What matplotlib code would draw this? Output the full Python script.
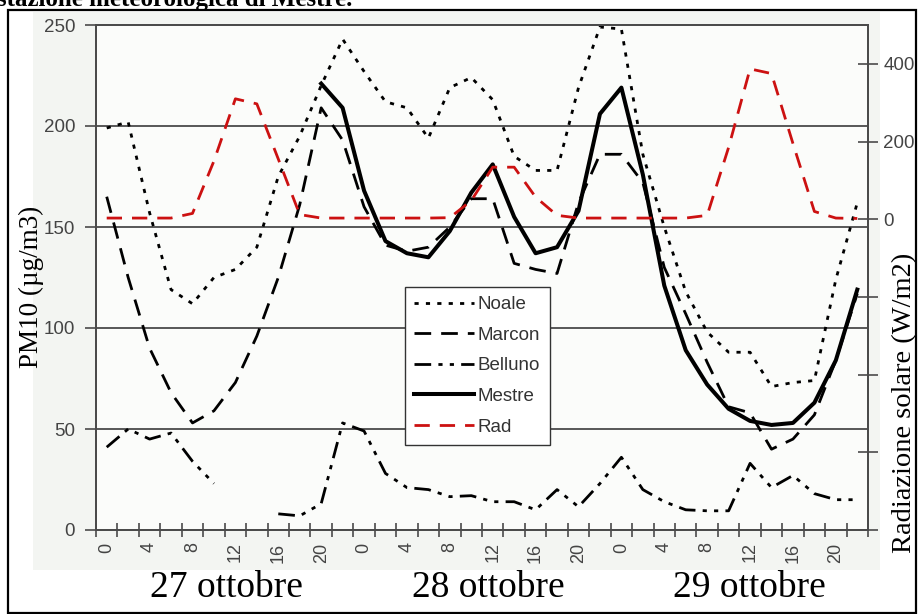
import numpy as np
import matplotlib
matplotlib.use('Agg')
import matplotlib.pyplot as plt
from matplotlib.patches import Rectangle

nan = np.nan

# 2-hourly categories over three days
hours = [0, 2, 4, 6, 8, 10, 12, 14, 16, 18, 20, 22] * 3
days = ['27 ottobre', '28 ottobre', '29 ottobre']

# PM10 (ug/m3), left axis
noale = [199, 202, 157, 119, 112, 125, 129, 140, 175, 195,
         220, 243, 227, 212, 209, 194, 219, 224, 213, 185,
         178, 178, 219, 249, 248, 186, 150, 118, 98, 88,
         88, 71, 73, 74, 124, 162]
marcon = [165, 125, 90, 68, 53, 59, 73, 96, 125, 161,
          209, 193, 160, 141, 138, 140, 150, 164, 164, 132,
          129, 127, 162, 186, 186, 172, 130, 107, 83, 61,
          58, 40, 45, 57, 84, 117]
belluno = [41, 50, 45, 48, 34, 23, nan, nan, 8, 7,
           13, 53, 49, 28, 21, 20, 16.5, 17, 14, 14,
           10, 20, 11.5, 23, 36, 20, 14, 10, 9.5, 9.5,
           33, 21, 27, 18, 15, 15]
mestre = [nan, nan, nan, nan, nan, nan, nan, nan, nan, nan,
          221, 209, 168, 143, 137, 135, 148, 167, 181, 155,
          137, 140, 158, 206, 219, 176, 121, 89, 72, 60,
          54, 52, 53, 63, 84, 119]

# solar radiation (W/m2), right axis
rad = [3, 3, 3, 3, 15, 150, 310, 297, 155, 12,
       3, 3, 3, 3, 3, 3, 4, 48, 134, 134,
       57, 10, 3, 3, 3, 3, 3, 3, 10, 185,
       387, 375, 195, 20, 3, 2]

W, H = 918, 614
fig = plt.figure(figsize=(W / 100, H / 100), dpi=100)
fig.patch.set_facecolor('white')

# tinted chart area and outer frame of the scanned page
fig.patches.append(Rectangle((33 / W, 1 - 570 / H), (880 - 33) / W, (570 - 12) / H,
                             transform=fig.transFigure, facecolor='#f3f5f2',
                             edgecolor='none', zorder=-5))
fig.patches.append(Rectangle((8 / W, 1 - 613 / H), (916 - 8) / W, (613 - 10) / H,
                             transform=fig.transFigure, fill=False,
                             edgecolor='black', lw=1.6, zorder=10))

ax = fig.add_axes([96 / W, 1 - 530 / H, (868 - 96) / W, (530 - 25) / H])
ax.set_facecolor('#fbfcfa')
ax2 = ax.twinx()

x = np.arange(len(hours))
lw = 2.0
l1, = ax.plot(x, noale, color='black', lw=lw, dashes=(1.5, 2.6), label='Noale')
l2, = ax.plot(x, marcon, color='black', lw=lw, dashes=(6, 3.6), label='Marcon')
l3, = ax.plot(x, belluno, color='black', lw=lw,
              dashes=(6, 2.6, 1.5, 2.6, 1.5, 2.6), label='Belluno')
l4, = ax.plot(x, mestre, color='black', lw=2.9, label='Mestre')
l5, = ax2.plot(x, rad, color='#cc1111', lw=lw, dashes=(5.5, 3.6), label='Rad')

gridc = '#4a4a4a'
ax.set_ylim(0, 250)
ax.set_yticks([0, 50, 100, 150, 200, 250])
for v in [50, 100, 150, 200]:
    ax.axhline(v, color=gridc, lw=1.3, zorder=0.5)
ax.set_xlim(-0.5, len(hours) - 0.5)
ax.set_xticks(np.arange(-0.5, len(hours), 1))
ax.set_xticklabels([])
lab_pos = x[::2]
ax.set_xticks(lab_pos, minor=True)
ax.set_xticklabels([str(h) for h in hours[::2]], minor=True, rotation=90,
                   fontsize=13, color='#444444', family='Liberation Sans')
ax.tick_params(axis='x', which='major', direction='inout', length=10,
               width=1.2, color=gridc)
ax.tick_params(axis='x', which='minor', length=0, pad=9)
ax.tick_params(axis='y', direction='out', length=8, width=1.2, color=gridc,
               labelsize=13.5, labelcolor='#444444', pad=7)
for t in ax.get_yticklabels():
    t.set_family('Liberation Sans')

ax2.set_ylim(-800, 500)
ax2.set_yticks([-800, -600, -400, -200, 0, 200, 400])
ax2.set_yticklabels(['', '', '', '', '0', '200', '400'],
                    family='Liberation Sans')
ax2.tick_params(axis='y', direction='inout', length=14, width=1.2, color=gridc,
                labelsize=13.5, labelcolor='#444444', pad=4)

for a in (ax, ax2):
    for s in a.spines.values():
        s.set_color(gridc)
        s.set_linewidth(1.3)

leg = ax2.legend([l1, l2, l3, l4, l5], ['Noale', 'Marcon', 'Belluno', 'Mestre', 'Rad'],
                 loc='upper left', bbox_to_anchor=(0.400, 0.482),
                 fancybox=False, framealpha=1, edgecolor='#333333',
                 prop={'family': 'Liberation Sans', 'size': 13.5},
                 handlelength=3.2, handletextpad=0.2, labelspacing=0.72,
                 borderpad=0.5, borderaxespad=0)
leg.get_frame().set_linewidth(1.0)
for t in leg.get_texts():
    t.set_color('#333333')

fig.text(31 / W, 1 - 287 / H, 'PM10 (\u00b5g/m3)', rotation=90, ha='center',
         va='center', fontsize=19.5, family='Liberation Serif')
fig.text(905 / W, 1 - 403 / H, 'Radiazione solare (W/m2)', rotation=90,
         ha='center', va='center', fontsize=20.5, family='Liberation Serif')
for cx, d in zip([226, 488, 749], days):
    fig.text(cx / W, 1 - 588 / H, d, ha='center', va='center', fontsize=27,
             family='Liberation Serif')

# title of the page, cut off at the top of the scan
fig.text(-3 / W, 1 - 6 / H, 'stazione meteorologica di Mestre.', ha='left',
         va='baseline', fontsize=18, weight='bold', family='Liberation Serif')

fig.savefig('out.png', dpi=100)
